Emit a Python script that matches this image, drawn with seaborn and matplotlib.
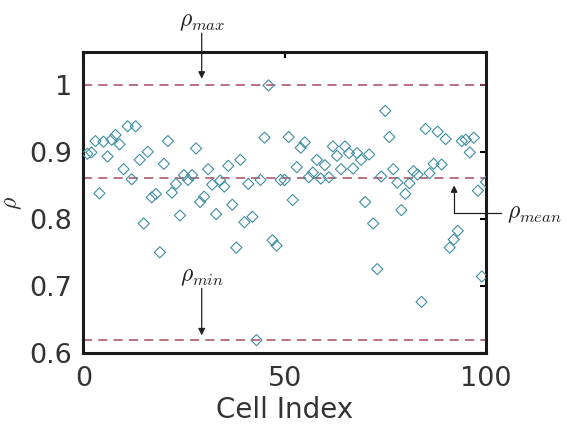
import numpy as np
import pandas as pd
import matplotlib
matplotlib.use("Agg")
import matplotlib.pyplot as plt
import seaborn as sns

cell_index = list(range(1, 101))
rho = [0.898, 0.900, 0.917, 0.839, 0.916, 0.894, 0.919, 0.926, 0.912, 0.875,
       0.939, 0.860, 0.939, 0.889, 0.794, 0.901, 0.833, 0.838, 0.751, 0.883,
       0.917, 0.840, 0.853, 0.806, 0.866, 0.859, 0.866, 0.906, 0.826, 0.834,
       0.875, 0.852, 0.808, 0.858, 0.849, 0.880, 0.822, 0.758, 0.889, 0.796,
       0.853, 0.804, 0.620, 0.859, 0.922, 1.000, 0.769, 0.761, 0.859, 0.859,
       0.923, 0.829, 0.878, 0.907, 0.915, 0.863, 0.870, 0.889, 0.861, 0.881,
       0.863, 0.909, 0.895, 0.875, 0.909, 0.899, 0.876, 0.899, 0.889, 0.826,
       0.897, 0.794, 0.726, 0.864, 0.962, 0.923, 0.875, 0.855, 0.814, 0.838,
       0.854, 0.872, 0.867, 0.677, 0.935, 0.869, 0.883, 0.931, 0.882, 0.920,
       0.758, 0.770, 0.783, 0.917, 0.919, 0.900, 0.922, 0.843, 0.715, 0.856]
rho_max = 1.0
rho_min = 0.62
rho_mean = 0.862
x_ticks = [0, 50, 100]
y_ticks = [0.6, 0.7, 0.8, 0.9, 1.0]
y_ticklabels = ["0.6", "0.7", "0.8", "0.9", "1"]

df = pd.DataFrame({"Cell Index": cell_index, "rho": rho})

sns.set_theme(style="white")
plt.rcParams["font.family"] = ["DejaVu Sans"]
plt.rcParams["mathtext.fontset"] = "cm"

fig = plt.figure(figsize=(5.67, 4.29), dpi=100)
ax = fig.add_axes([0.147, 0.176, 0.710, 0.703])

sns.scatterplot(data=df, x="Cell Index", y="rho", ax=ax, marker="D", s=32,
                facecolors="none", edgecolor="#3e8ea3", linewidth=0.8, zorder=3)

line_color = "#a84a5e"
for val in (rho_max, rho_mean, rho_min):
    ax.axhline(val, color=line_color, lw=1.1, dashes=(6, 4), zorder=2)

ax.set_xlim(0, 100)
ax.set_ylim(0.6, 1.05)
ax.set_xticks(x_ticks)
ax.set_yticks(y_ticks)
ax.set_yticklabels(y_ticklabels)
ax.tick_params(direction="in", length=4, width=1.5, top=True, right=True,
               labelsize=19.5, labelcolor="#333333", color="black")
ax.tick_params(axis="x", pad=9)
ax.tick_params(axis="y", pad=8)
ax.set_xlabel("Cell Index", fontsize=20, color="#333333", labelpad=3)
ax.set_ylabel(r"$\rho$", fontsize=17, color="#333333", labelpad=4)
for sp in ax.spines.values():
    sp.set_linewidth(2.2)
    sp.set_color("#1a1a1a")

ap = dict(arrowstyle="-|>", color="#222222", lw=0.9, mutation_scale=10,
          shrinkA=0, shrinkB=0)
ax.annotate("", xy=(29.4, 1.010), xytext=(29.4, 1.078), arrowprops=ap,
            annotation_clip=False)
ax.text(29.4, 1.096, r"$\rho_{max}$", fontsize=17, ha="center", va="center",
        color="#222222", clip_on=False)
ax.annotate("", xy=(29.4, 0.627), xytext=(29.4, 0.697), arrowprops=ap,
            annotation_clip=False)
ax.text(29.4, 0.716, r"$\rho_{min}$", fontsize=17, ha="center", va="center",
        color="#222222", clip_on=False)
ap2 = dict(ap, connectionstyle="angle,angleA=0,angleB=90,rad=0", relpos=(0, 0.5),
           shrinkA=2)
ax.annotate(r"$\rho_{mean}$", xy=(92.1, 0.851), xytext=(105.3, 0.810),
            fontsize=17, ha="left", va="center", color="#222222",
            arrowprops=ap2, annotation_clip=False)

fig.savefig("out.png", dpi=100)
